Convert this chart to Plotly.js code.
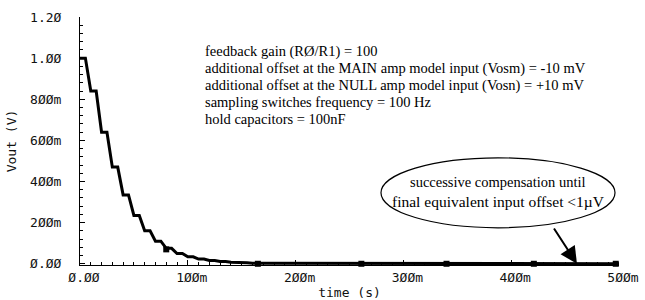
<!DOCTYPE html>
<html>
<head>
<meta charset="utf-8">
<script src="https://cdn.plot.ly/plotly-3.0.1.min.js"></script>
<style>html,body{margin:0;padding:0;background:#fff;}#chart{width:645px;height:300px;}</style>
</head>
<body>
<div id="chart"></div>
<script>
// Staircase output (corner points), time in s, Vout in V
const timeS = [0, 0.005, 0.010, 0.015, 0.020, 0.025, 0.030, 0.035, 0.040, 0.045,
  0.050, 0.055, 0.060, 0.065, 0.070, 0.075, 0.080, 0.085, 0.090, 0.095,
  0.100, 0.105, 0.110, 0.115, 0.120, 0.125, 0.130, 0.135, 0.140, 0.145,
  0.150, 0.155, 0.160, 0.165, 0.170, 0.175, 0.180, 0.190, 0.500];
const voutV = [1.00, 1.00, 0.84, 0.84, 0.64, 0.64, 0.47, 0.47, 0.335, 0.335,
  0.235, 0.235, 0.16, 0.16, 0.11, 0.11, 0.075, 0.075, 0.05, 0.05,
  0.034, 0.034, 0.023, 0.023, 0.016, 0.016, 0.011, 0.011, 0.007, 0.007,
  0.005, 0.005, 0.003, 0.003, 0.002, 0.002, 0.001, 0, 0];
// Waveform viewer point markers
const markerT = [0.080, 0.165, 0.261, 0.340, 0.421, 0.497];
const markerV = [0.07, 0, 0, 0, 0, 0];
// Tick labels
const xTickVals = [0, 0.1, 0.2, 0.3, 0.4, 0.5];
const xTickText = ["Ø.ØØ", "1ØØm", "2ØØm", "3ØØm", "4ØØm", "5ØØm"];
const yTickVals = [0, 0.2, 0.4, 0.6, 0.8, 1.0, 1.2];
const yTickText = ["Ø.ØØ", "2ØØm", "4ØØm", "6ØØm", "8ØØm", "1.ØØ", "1.2Ø"];
// Annotation texts
const infoLines = [
  "feedback gain (RØ/R1) = 100",
  "additional offset at the MAIN amp model input (Vosm) = -10 mV",
  "additional offset at the NULL amp model input (Vosn) = +10 mV",
  "sampling switches frequency = 100 Hz",
  "hold capacitors = 100nF"
];
const calloutLines = ["successive compensation until", "final equivalent input offset <1µV"];

const mono = {family: "DejaVu Sans Mono", size: 13, color: "#111"};
const serif = {family: "Liberation Serif", size: 14.5, color: "#000"};

const traces = [
  {x: timeS, y: voutV, type: "scatter", mode: "lines",
   line: {color: "#000", width: 3}, hoverinfo: "skip"},
  {x: markerT, y: markerV, type: "scatter", mode: "markers", cliponaxis: false,
   marker: {symbol: "square", size: 6, color: "#000"}, hoverinfo: "skip"}
];

const annotations = [];
infoLines.forEach((t, i) => {
  annotations.push({x: 0.1141, y: 1.03 - i * 0.0817, xref: "x", yref: "y",
    xanchor: "left", yanchor: "middle", text: t, showarrow: false, font: serif});
});
calloutLines.forEach((t, i) => {
  annotations.push({x: 0.3878, y: 0.397 - i * 0.092, xref: "x", yref: "y",
    xanchor: "center", yanchor: "middle", text: t, showarrow: false,
    font: Object.assign({}, serif, {size: i === 0 ? 14.5 : 15.5})});
});
annotations.push({x: 0.461, y: 0, xref: "x", yref: "y", ax: 0.4388, ay: 0.1785,
  axref: "x", ayref: "y", text: "", showarrow: true, arrowhead: 2, arrowsize: 1.7,
  arrowwidth: 2, arrowcolor: "#000", standoff: 0, startstandoff: 0});

const layout = {
  width: 645, height: 300,
  margin: {l: 80, r: 26, t: 17, b: 35},
  paper_bgcolor: "#fff", plot_bgcolor: "#fff",
  showlegend: false,
  xaxis: {
    range: [0, 0.5], tickmode: "array", tickvals: xTickVals, ticktext: xTickText,
    ticks: "inside", ticklen: 5, tickcolor: "#000", tickwidth: 1,
    showline: true, linecolor: "#000", linewidth: 1, showgrid: false, zeroline: false,
    minor: {tickmode: "linear", tick0: 0, dtick: 0.01, ticks: "inside", ticklen: 3, tickcolor: "#000", showgrid: false},
    tickfont: mono, ticklabelshift: 4, ticklabelstandoff: 0,
    title: {text: "time (s)", font: mono, standoff: 4}
  },
  yaxis: {
    range: [-0.006, 1.2], tickmode: "array", tickvals: yTickVals, ticktext: yTickText,
    ticks: "inside", ticklen: 5, tickcolor: "#000", tickwidth: 1,
    showline: true, linecolor: "#000", linewidth: 1, showgrid: false, zeroline: false,
    minor: {tickmode: "linear", tick0: 0, dtick: 0.04, ticks: "inside", ticklen: 3, tickcolor: "#000", showgrid: false},
    tickfont: mono, ticklabelstandoff: 15,
    title: {text: "Vout (V)", font: mono, standoff: 10}
  },
  shapes: [{type: "circle", xref: "x", yref: "y", x0: 0.2792, x1: 0.4963, y0: 0.175, y1: 0.515,
    line: {color: "#000", width: 1.2}, fillcolor: "#fff", layer: "above"}],
  annotations: annotations
};

Plotly.newPlot("chart", traces, layout, {displayModeBar: false, staticPlot: true});
</script>
</body>
</html>
